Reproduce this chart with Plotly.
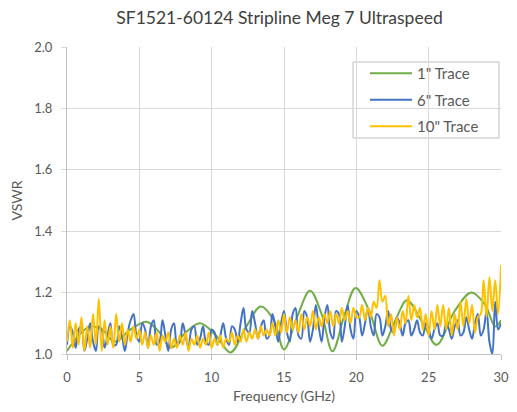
import numpy as np
import plotly.graph_objects as go

title = "SF1521-60124 Stripline Meg 7 Ultraspeed"
x_title = "Frequency (GHz)"
y_title = "VSWR"
x_ticks = [0, 5, 10, 15, 20, 25, 30]
y_ticks = [1.0, 1.2, 1.4, 1.6, 1.8, 2.0]

# 1" trace: read at its peaks, troughs and midpoints
freq_1in = [0.0, 0.8, 1.6, 2.4, 3.3, 4.4, 5.5, 6.4, 7.2, 8.2, 9.2, 10.3, 11.3, 12.4, 13.4, 14.3,
            15.0, 15.9, 16.8, 17.6, 18.35, 19.2, 19.95, 20.9, 21.8, 22.7, 23.5, 24.6, 25.55, 26.8,
            27.95, 28.9, 29.6, 30.0]
vswr_1in = [1.01, 1.06, 1.09, 1.08, 1.04, 1.08, 1.105, 1.07, 1.02, 1.07, 1.10, 1.06, 1.005, 1.09, 1.155, 1.11,
            1.015, 1.12, 1.206, 1.13, 1.009, 1.13, 1.215, 1.14, 1.027, 1.11, 1.175, 1.10, 1.03, 1.14,
            1.20, 1.16, 1.09, 1.11]

# 6" and 10" traces: read every 0.2 GHz
freq_grid = np.round(np.arange(151) * 0.2, 1)

vswr_6in = [
    1.03, 1.09, 1.07, 1.02, 1.08, 1.09, 1.01, 1.05, 1.10, 1.04, 1.01, 1.09, 1.08, 1.02, 1.06, 1.10,
    1.03, 1.03, 1.09, 1.06, 1.01, 1.07, 1.11, 1.13, 1.06, 1.04,
    1.10, 1.08, 1.02, 1.09, 1.11, 1.03, 1.04, 1.11, 1.06, 1.01, 1.08, 1.10, 1.03, 1.04, 1.10, 1.06,
    1.02, 1.08, 1.09, 1.03, 1.05, 1.09, 1.04, 1.03, 1.08,
    1.07, 1.03, 1.06, 1.10, 1.05, 1.03, 1.09, 1.08, 1.04, 1.10, 1.15, 1.08, 1.07, 1.14, 1.10, 1.05,
    1.09, 1.11, 1.05, 1.06, 1.13, 1.09, 1.04, 1.10, 1.14,
    1.07, 1.04, 1.13, 1.15, 1.06, 1.05, 1.14, 1.12, 1.04, 1.08, 1.16, 1.09, 1.04, 1.12, 1.16, 1.07,
    1.05, 1.14, 1.13, 1.04, 1.09, 1.16, 1.08, 1.05, 1.14,
    1.12, 1.06, 1.10, 1.15, 1.09, 1.06, 1.13, 1.12, 1.06, 1.09, 1.14, 1.08, 1.07, 1.12, 1.10, 1.06,
    1.10, 1.11, 1.06, 1.08, 1.11, 1.07, 1.06, 1.10, 1.08,
    1.05, 1.08, 1.10, 1.06, 1.06, 1.10, 1.08, 1.05, 1.09, 1.11, 1.06, 1.07, 1.12, 1.08, 1.05, 1.10,
    1.13, 1.06, 1.08, 1.14, 1.04, 1.00, 1.17, 1.08, 1.10,
]

vswr_10in = [
    1.04, 1.11, 1.02, 1.10, 1.03, 1.12, 1.01, 1.09, 1.02, 1.13, 1.03, 1.18, 1.01, 1.11, 1.03, 1.09,
    1.02, 1.13, 1.04, 1.10, 1.03, 1.08, 1.04, 1.09, 1.05, 1.08,
    1.03, 1.07, 1.02, 1.06, 1.03, 1.07, 1.01, 1.06, 1.04, 1.07, 1.02, 1.05, 1.02, 1.06, 1.03, 1.07,
    1.01, 1.05, 1.03, 1.06, 1.02, 1.05, 1.03, 1.07, 1.02,
    1.05, 1.03, 1.06, 1.02, 1.05, 1.04, 1.07, 1.03, 1.06, 1.04, 1.08, 1.04, 1.07, 1.05, 1.08, 1.05,
    1.09, 1.06, 1.08, 1.06, 1.10, 1.06, 1.11, 1.07, 1.13,
    1.07, 1.12, 1.08, 1.11, 1.07, 1.13, 1.08, 1.12, 1.09, 1.14, 1.08, 1.12, 1.09, 1.13, 1.10, 1.14,
    1.09, 1.13, 1.10, 1.15, 1.11, 1.14, 1.10, 1.15, 1.12,
    1.12, 1.16, 1.11, 1.15, 1.12, 1.17, 1.15, 1.24, 1.17, 1.19, 1.09, 1.13, 1.06, 1.12, 1.08, 1.14,
    1.10, 1.19, 1.11, 1.16, 1.12, 1.15, 1.08, 1.13, 1.06,
    1.14, 1.08, 1.16, 1.09, 1.16, 1.08, 1.15, 1.06, 1.13, 1.08, 1.17, 1.09, 1.18, 1.10, 1.16, 1.07,
    1.12, 1.13, 1.24, 1.12, 1.25, 1.14, 1.24, 1.13, 1.29,
]

series_names = ['1" Trace', '6" Trace', '10" Trace']
series_colors = ["#70ad47", "#4472c4", "#ffc000"]

fig = go.Figure()
fig.add_trace(go.Scatter(x=freq_1in, y=vswr_1in, mode="lines", name=series_names[0],
                         legendgroup="a", line=dict(color=series_colors[0], width=2, shape="spline", smoothing=1.0)))
fig.add_trace(go.Scatter(x=freq_grid, y=vswr_6in, mode="lines", name=series_names[1],
                         legendgroup="b", line=dict(color=series_colors[1], width=2, shape="spline", smoothing=1.0)))
fig.add_trace(go.Scatter(x=freq_grid, y=vswr_10in, mode="lines", name=series_names[2],
                         legendgroup="c", line=dict(color=series_colors[2], width=2, shape="spline", smoothing=1.0)))

# The page body adds an 8px margin on every side, so the figure is sized to fit inside it.
W, H = 501, 396
L, R = 59, 8
PW = W - L - R  # plot width in px; screen left edge of plot is 67
font_family = "Lato, 'Open Sans', sans-serif"
fig.update_layout(
    width=W, height=H,
    margin=dict(l=L, r=R, t=39, b=H - 346, autoexpand=False),
    paper_bgcolor="white", plot_bgcolor="white",
    font=dict(family=font_family, color="#595959", size=13),
    title=dict(text=title, x=(279.5 - 8) / W, xanchor="center", y=1 - 10 / H, yanchor="middle",
               yref="container", font=dict(size=17.5, color="#404040", family=font_family)),
    showlegend=True,
    legend=dict(x=(365 - 67) / PW, y=(354 - 57) / 307, xanchor="left", yanchor="top",
                bgcolor="rgba(0,0,0,0)", borderwidth=0, itemwidth=42,
                font=dict(size=15, color="#595959"), tracegroupgap=4, traceorder="grouped"),
    shapes=[dict(type="rect", xref="paper", yref="paper",
                 x0=(353 - 67) / PW, x1=(499 - 67) / PW,
                 y0=(354 - 138) / 307, y1=(354 - 62) / 307,
                 line=dict(color="#bfbfbf", width=1), fillcolor="white", layer="below")],
)
fig.update_xaxes(range=[0, 30], tickvals=x_ticks, ticktext=[str(v) for v in x_ticks],
                 showgrid=True, gridcolor="#d9d9d9", gridwidth=1,
                 showline=True, linecolor="#bfbfbf", linewidth=1,
                 ticks="outside", ticklen=5, tickcolor="#bfbfbf", ticklabelstandoff=6,
                 ticklabeloverflow="allow",
                 zeroline=False, automargin=False,
                 title=dict(text=x_title, font=dict(size=14, color="#595959"), standoff=13))
fig.update_yaxes(range=[1.0, 2.0], tickvals=y_ticks, ticktext=[f"{v:.1f}" for v in y_ticks],
                 showgrid=True, gridcolor="#d9d9d9", gridwidth=1,
                 showline=True, linecolor="#bfbfbf", linewidth=1,
                 ticks="outside", ticklen=5, tickcolor="#d9d9d9", ticklabelstandoff=6,
                 zeroline=False, automargin=False,
                 title=dict(text=y_title, font=dict(size=14, color="#595959"), standoff=8))

fig.write_html("out.html")
